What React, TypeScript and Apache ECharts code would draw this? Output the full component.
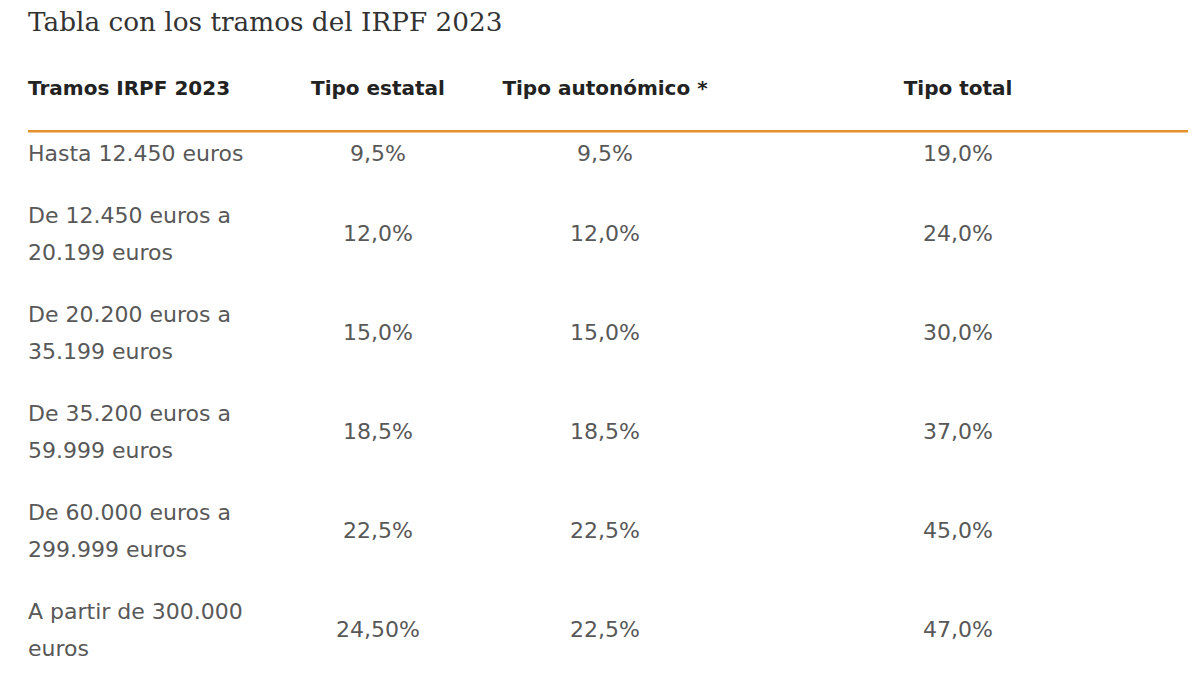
import React, { useEffect, useRef } from "react";
import * as echarts from "echarts";

const TITLE = "Tabla con los tramos del IRPF 2023";
const HEADERS = ["Tramos IRPF 2023", "Tipo estatal", "Tipo autonómico *", "Tipo total"];
const TRAMOS = [
  "Hasta 12.450 euros",
  "De 12.450 euros a\n20.199 euros",
  "De 20.200 euros a\n35.199 euros",
  "De 35.200 euros a\n59.999 euros",
  "De 60.000 euros a\n299.999 euros",
  "A partir de 300.000\neuros",
];
const TIPO_ESTATAL = ["9,5%", "12,0%", "15,0%", "18,5%", "22,5%", "24,50%"];
const TIPO_AUTONOMICO = ["9,5%", "12,0%", "15,0%", "18,5%", "22,5%", "22,5%"];
const TIPO_TOTAL = ["19,0%", "24,0%", "30,0%", "37,0%", "45,0%", "47,0%"];

// layout (styles, not data)
const COL_X = [28, 378, 605, 958];
const COL_ALIGN: ("left" | "center")[] = ["left", "center", "center", "center"];
const LINE_H = 37;
const ROW_PAD = 25 / 37;
const SANS = "'DejaVu Sans', 'Noto Sans', sans-serif";

export default function App() {
  const ref = useRef<HTMLDivElement>(null);
  useEffect(() => {
    document.body.style.margin = "0";
    if (!ref.current) return;
    const chart = echarts.init(ref.current, null, { renderer: "svg" });

    // row centers in "line" units along the (hidden) y value axis
    const lineCounts = TRAMOS.map((t) => t.split("\n").length);
    const centers: number[] = [];
    let acc = 0;
    lineCounts.forEach((n) => {
      const h = n + ROW_PAD;
      centers.push(acc + h / 2);
      acc += h;
    });
    const total = acc;
    const rows = TRAMOS.map((_, i) => [i, centers[i]]);

    chart.setOption({
      animation: false,
      backgroundColor: "#ffffff",
      title: {
        text: TITLE,
        left: 28,
        top: 9,
        padding: 0,
        textStyle: {
          fontFamily: "'DejaVu Serif', serif",
          fontWeight: "normal",
          fontSize: 26.3,
          color: "#333333",
        },
      },
      grid: { left: 0, right: 0, top: 122, height: total * LINE_H },
      xAxis: { type: "value", min: 0, max: 1, show: false },
      yAxis: { type: "value", min: 0, max: total, inverse: true, show: false },
      graphic: [
        ...HEADERS.map((h, i) => ({
          type: "text",
          x: COL_X[i],
          y: 88,
          style: {
            text: h,
            align: COL_ALIGN[i],
            verticalAlign: "middle",
            font: `bold 20px ${SANS}`,
            fill: "#222222",
          },
        })),
        {
          type: "rect",
          shape: { x: 28, y: 130, width: 1160, height: 2.5 },
          style: { fill: "#e5902f" },
        },
      ],
      series: [
        {
          type: "custom",
          data: rows,
          renderItem: (params: any, api: any) => {
            const i = api.value(0);
            const p = api.coord([0, api.value(1)]);
            const cells = [TRAMOS[i], TIPO_ESTATAL[i], TIPO_AUTONOMICO[i], TIPO_TOTAL[i]];
            return {
              type: "group",
              children: cells.map((c, k) => ({
                type: "text",
                x: COL_X[k],
                y: p[1],
                style: {
                  text: c,
                  align: COL_ALIGN[k],
                  verticalAlign: "middle",
                  fontFamily: SANS,
                  fontSize: 22,
                  lineHeight: LINE_H,
                  fill: "#585858",
                },
              })),
            };
          },
        },
      ],
    });
    return () => chart.dispose();
  }, []);
  return <div ref={ref} style={{ width: 1200, height: 684 }} />;
}
